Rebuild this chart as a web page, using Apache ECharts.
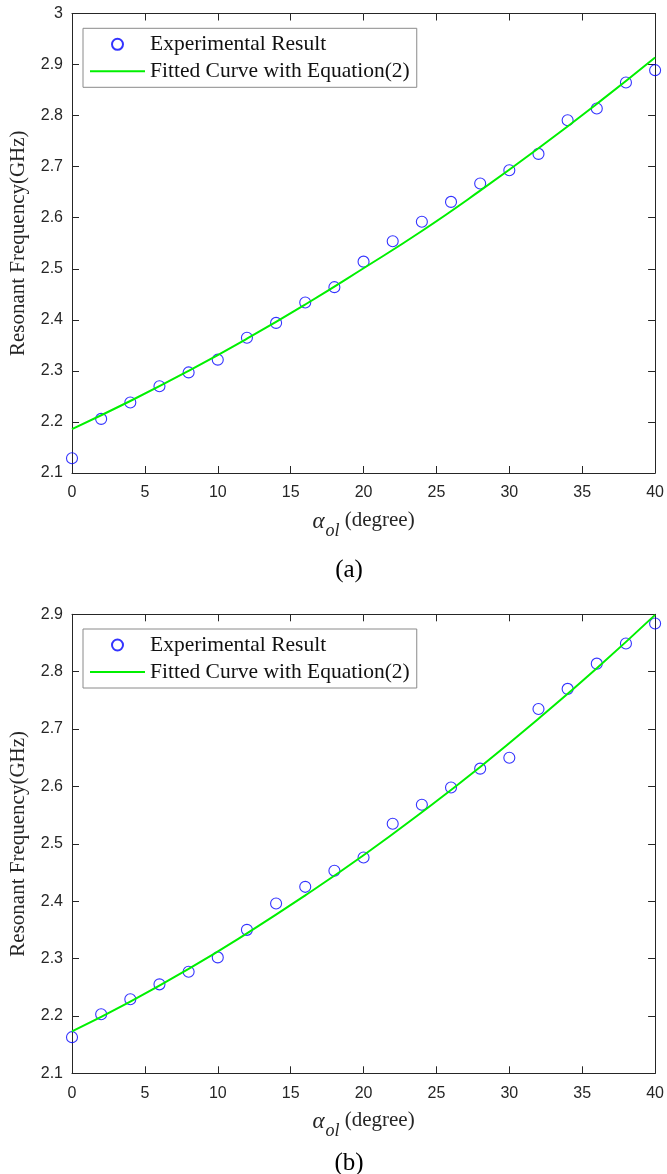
<!DOCTYPE html>
<html>
<head>
<meta charset="utf-8">
<script src="https://cdn.jsdelivr.net/npm/echarts@6/dist/echarts.min.js"></script>
<style>
    html, body { margin: 0; padding: 0; background: #fff; }
    #chart1 { width: 667px; height: 1174px; }
</style>
</head>
<body>
<div id="chart1"></div>
<script>
// 横轴角度 (degree)
var angles = [0, 2, 4, 6, 8, 10, 12, 14, 16, 18, 20, 22, 24, 26, 28, 30, 32, 34, 36, 38, 40];
// (a) 实验结果
var measuredA = [2.129, 2.206, 2.238, 2.270, 2.297, 2.322, 2.365, 2.394, 2.434, 2.464, 2.514,
    2.554, 2.592, 2.631, 2.667, 2.693, 2.725, 2.791, 2.814, 2.865, 2.889];
// (b) 实验结果
var measuredB = [2.163, 2.203, 2.229, 2.255, 2.277, 2.302, 2.350, 2.396, 2.425, 2.453, 2.476,
    2.535, 2.568, 2.598, 2.631, 2.650, 2.735, 2.770, 2.814, 2.849, 2.884];
// 拟合曲线
var fitAngles = [0, 4, 8, 12, 16, 20, 24, 28, 32, 36, 40];
var fitA = [2.186, 2.241, 2.300, 2.363, 2.430, 2.501, 2.574, 2.653, 2.736, 2.823, 2.914];
var fitB = [2.173, 2.225, 2.282, 2.344, 2.410, 2.480, 2.555, 2.634, 2.718, 2.806, 2.899];
var xTicks = [0, 5, 10, 15, 20, 25, 30, 35, 40];

var nameExp = 'Experimental Result';
var nameFit = 'Fitted Curve with Equation(2)';

var axisColor = '#262626';
var serif = '"Liberation Serif", "Times New Roman", serif';
var sans = '"Liberation Sans", Arial, sans-serif';

function pairs(xs, ys) {
    var out = [];
    for (var i = 0; i < xs.length; i++) {
        out.push([xs[i], ys[i]]);
    }
    return out;
}

var mychart = echarts.init(document.getElementById('chart1'));

function bottomX(gi) {
    return {
        type: 'value', gridIndex: gi, position: 'bottom',
        min: xTicks[0], max: xTicks[xTicks.length - 1], interval: 5,
        axisLine: { show: true, onZero: false, lineStyle: { color: axisColor, width: 1 } },
        axisTick: { show: true, inside: true, length: 7, lineStyle: { color: axisColor } },
        axisLabel: { color: axisColor, fontSize: 16, fontFamily: sans, margin: 12 },
        splitLine: { show: false },
        name: '{a|α}{s|ol}{d| (degree)}',
        nameLocation: 'middle',
        nameGap: 37,
        nameTextStyle: {
            rich: {
                a: { fontFamily: serif, fontStyle: 'italic', fontSize: 23, lineHeight: 24, verticalAlign: 'top', color: axisColor },
                s: { fontFamily: serif, fontStyle: 'italic', fontSize: 18, lineHeight: 18, padding: [12, 0, 0, 1], verticalAlign: 'top', color: axisColor },
                d: { fontFamily: serif, fontSize: 21, lineHeight: 24, verticalAlign: 'top', color: axisColor }
            }
        }
    };
}
function topX(gi) {
    return {
        type: 'value', gridIndex: gi, position: 'top',
        min: 0, max: 40, interval: 5,
        axisLine: { show: true, onZero: false, lineStyle: { color: axisColor, width: 1 } },
        axisTick: { show: true, inside: true, length: 7, lineStyle: { color: axisColor } },
        axisLabel: { show: false },
        splitLine: { show: false }
    };
}
function leftY(gi, ymin, ymax) {
    return {
        type: 'value', gridIndex: gi, position: 'left',
        min: ymin, max: ymax, interval: 0.1,
        axisLine: { show: true, onZero: false, lineStyle: { color: axisColor, width: 1 } },
        axisTick: { show: true, inside: true, length: 7, lineStyle: { color: axisColor } },
        axisLabel: { color: axisColor, fontSize: 16, fontFamily: sans, margin: 9 },
        splitLine: { show: false },
        name: 'Resonant Frequency(GHz)',
        nameLocation: 'middle',
        nameGap: 43,
        nameTextStyle: { fontFamily: serif, fontSize: 21, color: axisColor }
    };
}
function rightY(gi, ymin, ymax) {
    return {
        type: 'value', gridIndex: gi, position: 'right',
        min: ymin, max: ymax, interval: 0.1,
        axisLine: { show: true, onZero: false, lineStyle: { color: axisColor, width: 1 } },
        axisTick: { show: true, inside: true, length: 7, lineStyle: { color: axisColor } },
        axisLabel: { show: false },
        splitLine: { show: false }
    };
}
function legendAt(top) {
    return {
        orient: 'vertical',
        left: 83, top: top,
        padding: [5, 7, 5, 6],
        itemGap: 5,
        itemWidth: 55, itemHeight: 11,
        borderColor: '#8a8a8a', borderWidth: 1,
        backgroundColor: '#fff',
        selectedMode: false,
        textStyle: { fontFamily: serif, fontSize: 21.5, color: '#111' },
        data: [
            { name: nameExp },
            { name: nameFit, itemStyle: { opacity: 0 } }
        ]
    };
}
function expSeries(idx, data) {
    return {
        name: nameExp, type: 'scatter',
        xAxisIndex: idx, yAxisIndex: idx,
        data: pairs(angles, data),
        symbol: 'circle', symbolSize: 11,
        itemStyle: { color: 'rgba(0,0,0,0)', borderColor: '#0000ff', borderWidth: 1.1 },
        z: 2
    };
}
function fitSeries(idx, data) {
    return {
        name: nameFit, type: 'line',
        xAxisIndex: idx, yAxisIndex: idx,
        data: pairs(fitAngles, data),
        smooth: true, symbol: 'none', showSymbol: false,
        lineStyle: { color: '#00f000', width: 2 },
        itemStyle: { color: '#00f000' },
        z: 3
    };
}

var option = {
    animation: false,
    backgroundColor: '#fff',
    grid: [
        { left: 68, top: 13.5, width: 589.5, height: 459.5 },
        { left: 68, top: 614.3, width: 589.5, height: 459 }
    ],
    xAxis: [bottomX(0), topX(0), bottomX(1), topX(1)],
    yAxis: [leftY(0, 2.1, 3), rightY(0, 2.1, 3), leftY(1, 2.1, 2.9), rightY(1, 2.1, 2.9)],
    legend: [legendAt(28.3), legendAt(629)],
    series: [
        expSeries(0, measuredA),
        fitSeries(0, fitA),
        expSeries(2, measuredB),
        fitSeries(2, fitB)
    ],
    graphic: [
        { type: 'text', x: 349, y: 570, style: { text: '(a)', font: '25px ' + serif, fill: '#000', align: 'center', verticalAlign: 'middle' } },
        { type: 'text', x: 349, y: 1163, style: { text: '(b)', font: '25px ' + serif, fill: '#000', align: 'center', verticalAlign: 'middle' } }
    ]
};

mychart.setOption(option);
</script>
</body>
</html>
